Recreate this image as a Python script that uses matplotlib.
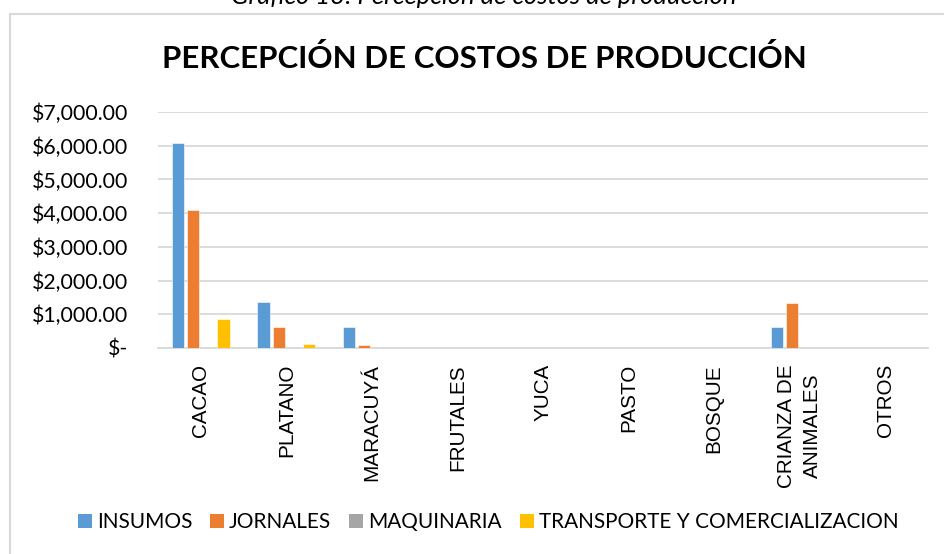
import matplotlib
matplotlib.use("Agg")
import matplotlib.pyplot as plt
import numpy as np
from matplotlib.ticker import FuncFormatter, MultipleLocator
from matplotlib.patches import Patch
from matplotlib.lines import Line2D
from matplotlib.transforms import ScaledTranslation

# ---------------- data ----------------
categories = ["CACAO", "PLATANO", "MARACUYÁ", "FRUTALES", "YUCA", "PASTO",
              "BOSQUE", "CRIANZA DE\nANIMALES", "OTROS"]
series_names = ["INSUMOS", "JORNALES", "MAQUINARIA", "TRANSPORTE Y COMERCIALIZACION"]
insumos = [6090, 1370, 620, 0, 0, 0, 0, 620, 0]
jornales = [4100, 620, 80, 0, 0, 0, 0, 1340, 0]
maquinaria = [0, 0, 0, 0, 0, 0, 0, 0, 0]
transporte = [850, 120, 0, 0, 0, 0, 0, 0, 0]
caption = "Gráfico 13: Percepción de costos de producción"
title = "PERCEPCIÓN DE COSTOS DE PRODUCCIÓN"
colors = ["#5B9BD5", "#ED7D31", "#A5A5A5", "#FFC000"]

# ---------------- figure ----------------
W, H = 944, 554
fig = plt.figure(figsize=(W / 100, H / 100), dpi=100)
renderer = fig.canvas.get_renderer()

CAL = "Lato"


def fit_size(s, target_px, **kw):
    t = fig.text(0, 0, s, fontsize=20, **kw)
    w = t.get_window_extent(renderer).width
    t.remove()
    return 20 * target_px / w


def fx(px):
    return px / W


def fy(py):
    return 1 - py / H


# plot area
left, right, top, bottom = 158, 928, 112, 348
ax = fig.add_axes([fx(left), fy(bottom), fx(right - left), (bottom - top) / H])

n = len(categories)
x = np.arange(n)
step = 0.178
width = 0.145
all_series = [insumos, jornales, maquinaria, transporte]
for i, (vals, c) in enumerate(zip(all_series, colors)):
    ax.bar(x + (i - 1.5) * step, vals, width=width, color=c, zorder=3,
           edgecolor="white", linewidth=0.4)

ax.set_xlim(-0.5, n - 0.5)
ax.set_ylim(0, 7000)
ax.yaxis.set_major_locator(MultipleLocator(1000))
ax.grid(axis="y", color="#D9D9D9", linewidth=1.3, zorder=0)
ax.set_axisbelow(True)
for s in ["top", "right", "left"]:
    ax.spines[s].set_visible(False)
ax.spines["bottom"].set_color("#D9D9D9")
ax.spines["bottom"].set_linewidth(1.3)
ax.tick_params(axis="both", length=0)


def money(v, pos):
    if v == 0:
        return "$-"
    return "${:,.2f}".format(v)


ax.yaxis.set_major_formatter(FuncFormatter(money))
ysize = fit_size("$7,000.00", 96, family=CAL)
ax.tick_params(axis="y", labelsize=ysize, pad=30 * 0.72, labelcolor="#000000")
for lab in ax.get_yticklabels():
    lab.set_family(CAL)

# category labels
ax.set_xticks(x)
xsize = fit_size("PLATANO", 93, family="Liberation Sans")
ax.set_xticklabels(categories, rotation=90, fontsize=xsize, family="Liberation Sans",
                   multialignment="center", va="top", ha="center", linespacing=1.45)
ax.tick_params(axis="x", pad=16 * 0.72)

# shift the "$-" label leftwards like Excel accounting format
ticks = ax.yaxis.get_major_ticks()
ticks[0].label1.set_transform(ticks[0].label1.get_transform()
                              + ScaledTranslation(-10 / 100, 0, fig.dpi_scale_trans))

# title
tsize = fit_size(title, 646, family=CAL, weight="bold")
fig.text(fx(484), fy(58), title, ha="center", va="center", fontsize=tsize,
         family=CAL, weight="bold", color="#000000")

# caption (cut at top, as in the reference)
csize = fit_size(caption, 506, family=CAL, style="italic")
fig.text(fx(484), fy(4), caption, ha="center", va="baseline", fontsize=csize,
         family=CAL, style="italic", color="#000000")

# legend
lsize = fit_size("INSUMOS", 95, family=CAL)
handles = [Patch(facecolor=c, edgecolor="none", label=nm) for c, nm in zip(colors, series_names)]
px_per_em = lsize * 100 / 72
leg = fig.legend(handles=handles, loc="center", bbox_to_anchor=(fx(488), fy(522)),
                 ncol=4, frameon=False, prop={"family": CAL, "size": lsize},
                 handlelength=14 / px_per_em, handleheight=14 / px_per_em,
                 handletextpad=5 / px_per_em, columnspacing=18 / px_per_em,
                 borderpad=0, borderaxespad=0)

# chart border (light gray), cut by right/bottom image edges
border_color = "#D9D9D9"
fig.add_artist(Line2D([fx(10), fx(10)], [fy(14), 0], color=border_color, linewidth=1.5))
fig.add_artist(Line2D([fx(10), 1], [fy(14), fy(14)], color=border_color, linewidth=1.5))

fig.savefig("out.png", dpi=100)
